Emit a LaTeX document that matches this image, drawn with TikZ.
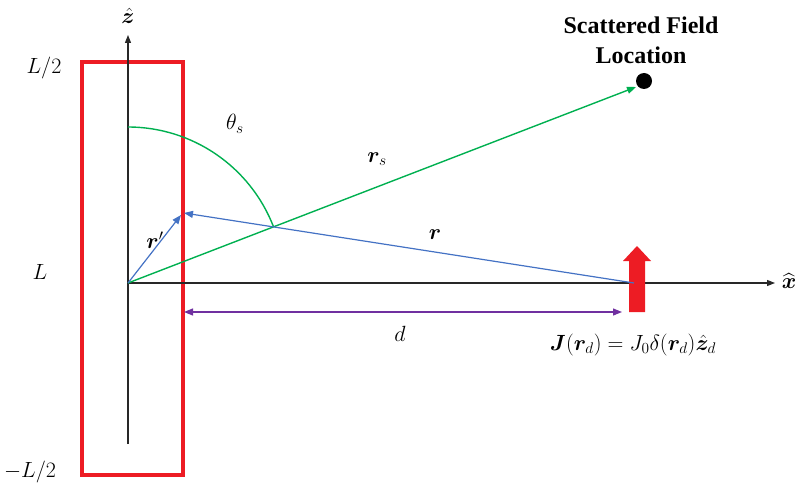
\RequirePackage{fix-cm}
\documentclass[tikz,border=0pt]{standalone}
\usepackage{amsmath,bm}
\usepackage{fontspec}
\newfontfamily\timesbf{Liberation Serif}
\usetikzlibrary{arrows.meta}
\definecolor{cred}{RGB}{237,28,36}
\definecolor{cgreen}{RGB}{0,176,80}
\definecolor{cblue}{RGB}{68,114,196}
\definecolor{cpurple}{RGB}{112,48,160}
\definecolor{caxis}{RGB}{40,40,40}
\tikzset{
  axis/.style={draw=caxis,line width=1.1pt,-{Triangle[length=8pt,width=6pt]}},
  greenline/.style={draw=cgreen,line width=1.4pt},
  blueline/.style={draw=cblue,line width=1.2pt,-{Triangle[length=9pt,width=7pt]}},
  purpleline/.style={draw=cpurple,line width=1.2pt,{Triangle[length=9pt,width=7pt]}-{Triangle[length=9pt,width=7pt]}},
  lbl/.style={inner sep=0pt,font=\fontsize{22}{24}\selectfont},
}
\begin{document}
\begin{tikzpicture}[x=1pt,y=-1pt]
\useasboundingbox (0,0) rectangle (800,492);
% coordinates
\coordinate (O) at (128,283);
\coordinate (zbot) at (128,444);
\coordinate (ztop) at (128,35);
\coordinate (xend) at (775,283);
\coordinate (rs) at (636,87);
\coordinate (rp) at (181,215);
\coordinate (rd) at (634,283);
\coordinate (rpp) at (184,213);
\coordinate (dl) at (184,312);
\coordinate (dr) at (622,312);
% red box
\draw[cred,line width=4pt] (82,62) rectangle (183,475);
% axes
\draw[axis] (zbot) -- (ztop);
\draw[axis] (O) -- (xend);
% green
\draw[greenline,-{Triangle[length=9pt,width=7pt]}] (O) -- (rs);
\draw[greenline] (128,127) arc[start angle=-90,end angle=-21.3,radius=156];
% red current arrow
\fill[cred] (629,312) -- (629,261) -- (623,261) -- (637,246) -- (651,261) -- (645,261) -- (645,312) -- cycle;
% blue
\draw[blueline] (O) -- (rp);
\draw[blueline] (rd) -- (rpp);
% purple
\draw[purpleline] (dl) -- (dr);
% dot
\fill[black] (644,81) circle[radius=8];
% labels
\node[lbl] (zl) at (128,16) {$\hat{\bm z}$};
\node[lbl] (xl) at (789,281) {$\widehat{\bm x}$};
\node[lbl] (l2) at (44,68) {$L/2$};
\node[lbl] (l1) at (40,272) {$L$};
\node[lbl] (l3) at (30,472) {$-L/2$};
\node[lbl] (th) at (235,124) {$\theta_s$};
\node[lbl] (rpl) at (155,240) {$\bm r'$};
\node[lbl] (rsl) at (377,159) {$\bm r_s$};
\node[lbl] (rl) at (435,235) {$\bm r$};
\node[lbl] (dlab) at (400,334) {$d$};
\node[lbl] (jl) at (633,345) {$\bm J(\bm r_d)=J_0\delta(\bm r_d)\hat{\bm z}_d$};
\node[inner sep=0pt,align=center,font=\timesbf\bfseries\fontsize{24}{30}\selectfont] (sf) at (641,40) {Scattered Field\\Location};
\end{tikzpicture}
\end{document}
